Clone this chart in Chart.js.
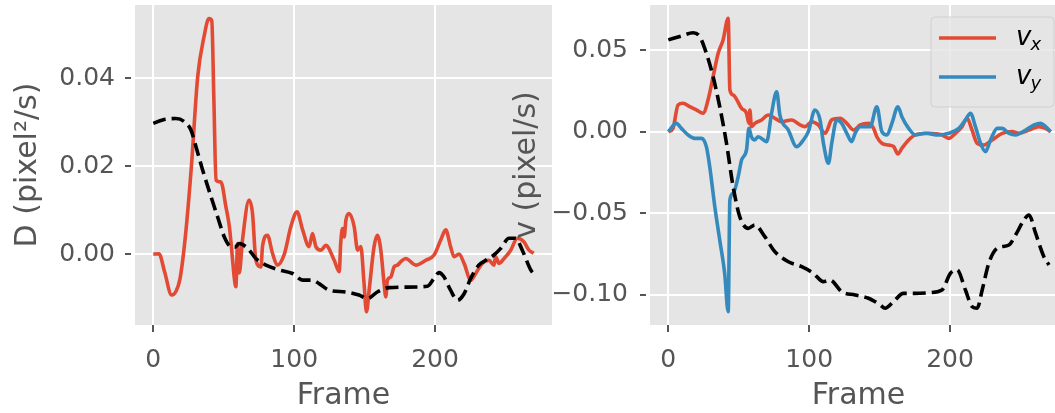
<!DOCTYPE html>
<html>
<head>
<meta charset="utf-8">
<script src="https://cdn.jsdelivr.net/npm/chart.js@4/dist/chart.umd.min.js"></script>
<style>
  html, body { margin: 0; padding: 0; background: #fff; overflow: hidden; }
  body { width: 1055px; height: 413px; position: relative; }
  canvas { position: absolute; top: 0; }
  #left { left: 0; }
  #right { left: 505px; }
</style>
</head>
<body>
<canvas id="left" width="560" height="413"></canvas>
<canvas id="right" width="562" height="413"></canvas>
<script>
// tick labels
const xTicks = [0, 100, 200]
const dTicks = [0, 0.02, 0.04]
const vTicks = [-0.1, -0.05, 0, 0.05]

// left panel: D per frame (red) and the dashed reference curve
const dFrames = [0, 4, 8, 13, 16, 19, 23, 27, 31.5, 36, 39.5, 41.5, 43, 44.5, 48, 51.5, 54, 56.3, 57.4, 58.6,
  59.8, 61, 63.3, 68, 70.4, 72.8, 76.4, 77.5, 81, 84.6, 88, 93, 97.6, 102, 106, 110.6, 113, 115.4, 119, 122.5,
  128.4, 132, 133, 134.3, 135.5, 136.7, 139, 142.6, 145, 147.3, 149.6, 151.3, 153.2, 156.7, 159, 161.5, 163.8, 165, 166.2, 168.6,
  170.9, 173.3, 175.7, 179.2, 186.3, 193.4, 199.3, 204, 207.6, 211, 213.5, 217, 220.6, 225.3, 228.8, 233.5, 238.3, 241.8, 243, 245.4,
  249, 253.7, 258.4, 263, 266.7, 270]
const dValues = [0, 0.0001, -0.004, -0.0093, -0.0085, -0.0055, 0.0048, 0.0198, 0.0403, 0.0494, 0.0535, 0.053, 0.035, 0.0168, 0.0164, 0.0108, 0.0062, -0.0014, -0.0052, -0.0074,
  0.0024, -0.0043, 0.0032, 0.0123, 0.0093, -0.0014, -0.0029, 0.0017, 0.0043, 0.0002, -0.0025, 0, 0.0062, 0.0096, 0.0055, 0.0017, 0.0047, 0.0017, 0.0009, 0.002,
  -0.0014, -0.004, 0.0024, 0.0058, 0.0039, 0.0077, 0.0092, 0.0062, 0.0009, 0.0017, -0.0067, -0.0131, -0.0082, 0.0017, 0.0043, 0.0009, -0.0067, -0.0097, -0.0059, -0.0052,
  -0.0029, -0.0025, -0.0017, -0.001, -0.0025, -0.0014, -0.0002, 0.0032, 0.0055, 0.0017, -0.0006, 0, -0.0021, -0.0059, -0.0044, -0.0021, -0.0014, -0.0025, -0.0006, -0.0021,
  -0.001, 0.0009, 0.0036, 0.0028, 0.0009, 0.0002]

const dRefFrames = [0, 6.6, 16, 22, 26.7, 30.3, 35, 41, 45.6, 50.4, 55, 58, 61, 67, 72.8, 80, 89.4, 98.8, 106, 113,
  117.7, 124.8, 136.7, 146, 152, 159, 167.4, 179.2, 194.5, 199.3, 202.8, 206.4, 211, 215.8, 220.6, 225.3, 231, 236, 241.8, 246.6,
  252.5, 257.2, 261.9, 267.9, 270]
const dRefValues = [0.0297, 0.0305, 0.0308, 0.0301, 0.0282, 0.0244, 0.0191, 0.013, 0.0085, 0.0039, 0.0017, 0.0016, 0.0024, 0.0013, -0.001, -0.0025, -0.0036, -0.0044, -0.0059, -0.0059,
  -0.0067, -0.0082, -0.0086, -0.0093, -0.0101, -0.0086, -0.0076, -0.0075, -0.0073, -0.0055, -0.0042, -0.0052, -0.0082, -0.0105, -0.009, -0.0055, -0.0025, -0.0014, -0.0002, 0.0013,
  0.0036, 0.0036, 0.0009, -0.0036, -0.0045]

// right panel: v_x (red), v_y (blue) and the dashed reference curve
const vxFrames = [0, 3.3, 6.9, 10.4, 15.2, 19.9, 24.7, 28.2, 31.8, 35.4, 38.9, 42.5, 43.7, 46, 52, 55.5, 57.2, 57.9, 59, 61.4,
  66.2, 71, 75.7, 80.4, 87.5, 93.5, 97, 101.8, 106.5, 111.3, 116, 122, 126.7, 131.5, 136.2, 142, 145.7, 148, 151.6, 156.4,
  160, 163, 165.8, 170.6, 175.3, 184.8, 194.3, 199, 203.8, 208.5, 212.1, 215.6, 219.2, 224, 229.9, 237, 244, 248.9, 256, 263,
  267.8, 271.4]
const vxValues = [0, 0.002, 0.0164, 0.0174, 0.0153, 0.0133, 0.0113, 0.0194, 0.0337, 0.0481, 0.0563, 0.0696, 0.0256, 0.0225, 0.0143, 0.0113, 0.0051, 0.0133, 0.0031, 0.0051,
  0.0072, 0.0102, 0.0082, 0.0061, 0.0072, 0.0041, 0.0031, 0.0061, 0.0041, -0.001, 0.0072, 0.0082, 0.0051, 0.001, 0.0041, 0.0051, 0.002, -0.0031, -0.0071, -0.0082,
  -0.0092, -0.0137, -0.0102, -0.0051, -0.002, -0.001, -0.002, -0.0041, -0.001, 0.0031, 0.0082, 0.001, -0.0071, -0.0082, -0.0051, -0.001, 0, -0.001, 0.001, 0.0031,
  0.002, 0]

const vyFrames = [0, 5.7, 9.3, 14, 18.7, 23.5, 27, 29.4, 33, 36.5, 40, 42.5, 43.7, 46, 49.6, 52, 55.5, 57.2, 59, 61.4,
  63.8, 69.8, 73.3, 76.9, 79.2, 85.2, 91.1, 95.9, 99.4, 104.1, 107.7, 110.1, 113.7, 116, 119.6, 123.1, 126.7, 130.2, 132.6, 136.2,
  143.3, 148, 151.6, 155.2, 158.7, 163, 165.8, 170.6, 175.3, 182.4, 192, 199, 206.2, 210.9, 214.5, 218, 221.6, 225.1, 228.7, 233.5,
  237, 241.8, 246.5, 253.7, 259.6, 264.3, 267.8, 271.4]
const vyValues = [0, 0.0051, 0.002, -0.002, -0.0041, -0.0041, -0.0092, -0.0215, -0.046, -0.0664, -0.0869, -0.1104, -0.0419, -0.0378, -0.0276, -0.0174, -0.0112, 0.002, -0.0031, -0.0051,
  -0.0031, -0.0061, 0.0113, 0.0245, 0.0102, 0.001, -0.0092, -0.0051, 0, 0.0133, 0.0072, -0.0071, -0.0194, -0.0071, 0.0072, 0.0051, -0.001, -0.0061, -0.001, 0.0031,
  0.0031, 0.0153, 0, -0.002, 0.0051, 0.0153, 0.0092, 0.002, -0.002, -0.001, -0.002, -0.001, 0.002, 0.0072, 0.0113, 0.0031, -0.0071, -0.0123, -0.0051, 0.002,
  0.002, -0.001, -0.002, 0.001, 0.0041, 0.0051, 0.0031, 0]

const vRefFrames = [0, 9.3, 17.6, 22.3, 27, 31.8, 36.5, 41.3, 46, 50.7, 56.7, 61.4, 68.5, 75.6, 85.2, 94.7, 103, 110.1, 114.8, 123.1,
  132.6, 142.1, 146.8, 150.4, 153.9, 159.8, 166.9, 175.3, 184.8, 194.3, 200.2, 205, 210.9, 215.7, 219.2, 222.8, 227.5, 233.5, 241.8, 246.5,
  252.4, 256, 260.7, 266.6, 270.2]
const vRefValues = [0.0563, 0.0587, 0.0607, 0.0583, 0.0481, 0.0337, 0.0153, -0.0071, -0.0337, -0.0521, -0.0593, -0.0572, -0.0644, -0.0736, -0.0798, -0.0828, -0.0869, -0.092, -0.091, -0.0982,
  -0.1002, -0.1022, -0.1043, -0.1063, -0.1083, -0.1043, -0.0992, -0.0992, -0.0988, -0.0971, -0.0869, -0.0848, -0.0971, -0.1074, -0.1083, -0.0971, -0.0807, -0.0715, -0.0695, -0.0634,
  -0.0542, -0.0511, -0.0623, -0.0767, -0.0818]

const RED = '#E24A33'
const BLUE = '#348ABD'
const INK = '#555555'
const FONT = 'DejaVu Sans'

function pts(xs, ys) {
  return xs.map((x, i) => ({ x: x, y: ys[i] }))
}

function fmt(v) {
  if (Math.abs(v) < 1e-9) return '0.00'
  return v.toFixed(2).replace('-', '\u2212')
}

// grey plot area like the ggplot style
const panelBg = {
  id: 'panelBg',
  beforeDraw(chart) {
    const a = chart.chartArea
    chart.ctx.save()
    chart.ctx.fillStyle = '#E5E5E5'
    chart.ctx.fillRect(a.left, a.top, a.right - a.left, a.bottom - a.top)
    chart.ctx.restore()
  }
}

// legend with italic v and a subscript
const vLegend = {
  id: 'vLegend',
  afterDraw(chart) {
    const ctx = chart.ctx
    const a = chart.chartArea
    const w = 123, h = 90
    const left = a.right - 13 - w
    const top = a.top + 12
    ctx.save()
    ctx.beginPath()
    ctx.roundRect(left, top, w, h, 4)
    ctx.fillStyle = 'rgba(229,229,229,0.8)'
    ctx.fill()
    ctx.strokeStyle = 'rgba(204,204,204,0.8)'
    ctx.lineWidth = 1
    ctx.stroke()
    chart.data.datasets.forEach(ds => {
      if (!ds.label) return
      const i = ds.legendRow
      const y = top + 21 + i * 39
      ctx.beginPath()
      ctx.moveTo(left + 8, y)
      ctx.lineTo(left + 65, y)
      ctx.strokeStyle = ds.borderColor
      ctx.lineWidth = 3.6
      ctx.stroke()
      const parts = ds.label.split('_')
      ctx.fillStyle = '#000'
      ctx.textBaseline = 'alphabetic'
      ctx.font = 'italic 26px "' + FONT + '"'
      ctx.fillText(parts[0], left + 85, y + 7)
      const vw = ctx.measureText(parts[0]).width
      ctx.font = 'italic 18px "' + FONT + '"'
      ctx.fillText(parts[1], left + 85 + vw - 1, y + 12)
    })
    ctx.restore()
  }
}

function xScale() {
  return {
    type: 'linear',
    min: -13,
    max: 283,
    afterBuildTicks: s => { s.ticks = xTicks.map(v => ({ value: v })) },
    afterFit: s => { s.height = 88; s.paddingLeft = 0; s.paddingRight = 0 },
    grid: { color: '#fff', lineWidth: 2, tickColor: INK, tickWidth: 2, tickLength: 10, tickBorderDash: [7, 10] },
    border: { display: false },
    ticks: { color: INK, font: { family: FONT, size: 25 }, padding: 10, maxRotation: 0, callback: v => String(v) },
    title: { display: true, text: 'Frame', color: INK, font: { family: FONT, size: 30, lineHeight: 1 }, padding: { top: 0, bottom: 2 } }
  }
}

function yScale(min, max, tickVals, width, label, labelPad, tickPad) {
  return {
    type: 'linear',
    min: min,
    max: max,
    afterBuildTicks: s => { s.ticks = tickVals.map(v => ({ value: v })) },
    afterFit: s => { s.width = width; s.paddingTop = 0; s.paddingBottom = 0 },
    grid: { color: '#fff', lineWidth: 2, tickColor: INK, tickWidth: 2, tickLength: 10, tickBorderDash: [6, 10] },
    border: { display: false },
    ticks: { color: INK, font: { family: FONT, size: 25 }, padding: tickPad, callback: v => fmt(v) },
    title: { display: true, text: label, color: INK, font: { family: FONT, size: 30, lineHeight: 1 }, padding: { top: labelPad, bottom: 0 } }
  }
}

function line(xs, ys, color, order, extra) {
  return Object.assign({
    data: pts(xs, ys),
    borderColor: color,
    borderWidth: 3.6,
    pointRadius: 0,
    cubicInterpolationMode: 'monotone',
    order: order
  }, extra || {})
}

const common = {
  responsive: false,
  animation: false,
  events: [],
  plugins: { legend: { display: false }, tooltip: { enabled: false } }
}

new Chart(document.getElementById('left'), {
  type: 'line',
  data: {
    datasets: [
      line(dFrames, dValues, RED, 2),
      line(dRefFrames, dRefValues, '#000', 0, { borderDash: [13, 6] })
    ]
  },
  options: Object.assign({}, common, {
    layout: { padding: { top: 5, right: 8, left: 0, bottom: 0 } },
    scales: {
      x: xScale(),
      y: yScale(-0.0161, 0.0566, dTicks, 135, 'D (pixel\u00B2/s)', 13, 10)
    }
  }),
  plugins: [panelBg]
})

new Chart(document.getElementById('right'), {
  type: 'line',
  data: {
    datasets: [
      line(vxFrames, vxValues, RED, 2, { label: 'v_x', legendRow: 0 }),
      line(vyFrames, vyValues, BLUE, 1, { label: 'v_y', legendRow: 1 }),
      line(vRefFrames, vRefValues, '#000', 0, { borderDash: [13, 6] })
    ]
  },
  options: Object.assign({}, common, {
    layout: { padding: { top: 5, right: 0, left: 0, bottom: 0 } },
    scales: {
      x: xScale(),
      y: yScale(-0.1186, 0.0777, vTicks, 145, 'v (pixel/s)', 7, 12)
    }
  }),
  plugins: [panelBg, vLegend]
})
</script>
</body>
</html>
